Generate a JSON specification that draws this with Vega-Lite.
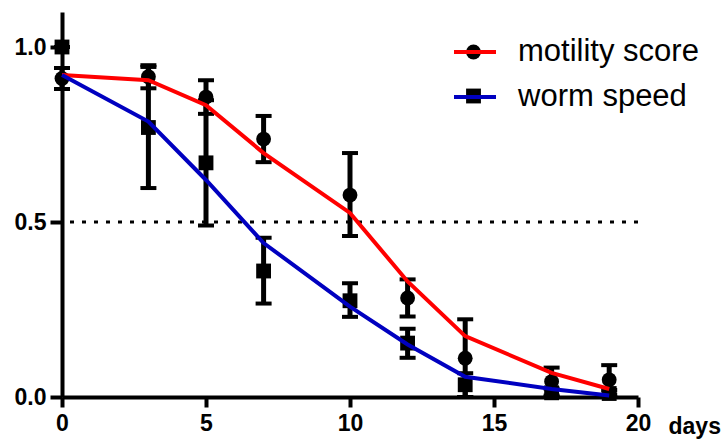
{
  "$schema": "https://vega.github.io/schema/vega-lite/v6.json",
  "autosize": "none",
  "width": 576,
  "height": 385,
  "padding": {"left": 62, "top": 12, "right": 88, "bottom": 42},
  "background": "white",
  "config": {"view": {"stroke": null}, "font": "Liberation Sans"},
  "datasets": {
    "obs": [
      {"group": "motility", "day": 0, "mean": 0.91, "lo": 0.88, "hi": 0.94},
      {"group": "motility", "day": 3, "mean": 0.915, "lo": 0.882, "hi": 0.948},
      {"group": "motility", "day": 5, "mean": 0.857, "lo": 0.809, "hi": 0.905},
      {"group": "motility", "day": 7, "mean": 0.737, "lo": 0.671, "hi": 0.803},
      {"group": "motility", "day": 10, "mean": 0.577, "lo": 0.46, "hi": 0.697},
      {"group": "motility", "day": 12, "mean": 0.283, "lo": 0.23, "hi": 0.336},
      {"group": "motility", "day": 14, "mean": 0.111, "lo": 0.0, "hi": 0.222},
      {"group": "motility", "day": 17, "mean": 0.044, "lo": 0.004, "hi": 0.084},
      {"group": "motility", "day": 19, "mean": 0.049, "lo": 0.007, "hi": 0.091},
      {"group": "speed", "day": 0, "mean": 1.0, "lo": 1.0, "hi": 1.0},
      {"group": "speed", "day": 3, "mean": 0.77, "lo": 0.597, "hi": 0.943},
      {"group": "speed", "day": 5, "mean": 0.669, "lo": 0.49, "hi": 0.848},
      {"group": "speed", "day": 7, "mean": 0.36, "lo": 0.267, "hi": 0.455},
      {"group": "speed", "day": 10, "mean": 0.275, "lo": 0.229, "hi": 0.325},
      {"group": "speed", "day": 12, "mean": 0.154, "lo": 0.112, "hi": 0.195},
      {"group": "speed", "day": 14, "mean": 0.035, "lo": 0.0, "hi": 0.068},
      {"group": "speed", "day": 17, "mean": 0.012, "lo": 0.0, "hi": 0.024},
      {"group": "speed", "day": 19, "mean": 0.01, "lo": 0.0, "hi": 0.02}
    ],
    "fit": [
      {"series": "motility score", "day": 0, "value": 0.92},
      {"series": "motility score", "day": 3, "value": 0.905},
      {"series": "motility score", "day": 5, "value": 0.834},
      {"series": "motility score", "day": 7, "value": 0.697},
      {"series": "motility score", "day": 10, "value": 0.526},
      {"series": "motility score", "day": 12, "value": 0.33},
      {"series": "motility score", "day": 14, "value": 0.174},
      {"series": "motility score", "day": 17, "value": 0.069},
      {"series": "motility score", "day": 19, "value": 0.023},
      {"series": "worm speed", "day": 0, "value": 0.92},
      {"series": "worm speed", "day": 3, "value": 0.787},
      {"series": "worm speed", "day": 5, "value": 0.62},
      {"series": "worm speed", "day": 7, "value": 0.44},
      {"series": "worm speed", "day": 10, "value": 0.258},
      {"series": "worm speed", "day": 12, "value": 0.15},
      {"series": "worm speed", "day": 14, "value": 0.058},
      {"series": "worm speed", "day": 17, "value": 0.023},
      {"series": "worm speed", "day": 19, "value": 0.004}
    ]
  },
  "layer": [
    {
      "data": {"name": "obs"},
      "mark": {"type": "rule", "color": "black", "strokeWidth": 5, "opacity": 1},
      "encoding": {
        "x": {
          "field": "day", "type": "quantitative",
          "scale": {"domain": [0, 20], "nice": false, "zero": false},
          "axis": {
            "values": [0, 5, 10, 15, 20], "grid": false,
            "domainColor": "black", "domainWidth": 4,
            "tickColor": "black", "tickWidth": 4, "tickSize": 10,
            "labelFont": "Liberation Sans", "labelFontSize": 23, "labelFontWeight": "bold", "labelColor": "black",
            "labelPadding": 5, "labelFlush": false, "labelOverlap": false,
            "title": "days", "titleFont": "Liberation Sans", "titleFontSize": 23, "titleFontWeight": "bold", "titleColor": "black",
            "titleX": 606, "titleY": 36, "titleAlign": "left", "titleBaseline": "alphabetic", "titleAnchor": "start"
          }
        },
        "y": {"field": "lo", "type": "quantitative",
          "scale": {"domain": [0, 1.1], "nice": false},
          "axis": {
            "values": [0, 0.5, 1.0], "format": ".1f", "grid": false, "title": null,
            "domainColor": "black", "domainWidth": 4,
            "tickColor": "black", "tickWidth": 4, "tickSize": 12,
            "labelFont": "Liberation Sans", "labelFontSize": 23, "labelFontWeight": "bold", "labelColor": "black",
            "labelPadding": 4, "labelFlush": false, "labelOverlap": false
          }},
        "y2": {"field": "hi"}
      }
    },
    {
      "data": {"name": "obs"},
      "mark": {"type": "tick", "orient": "horizontal", "color": "black", "opacity": 1, "size": 16, "thickness": 4},
      "encoding": {"x": {"field": "day", "type": "quantitative"}, "y": {"field": "lo", "type": "quantitative"}}
    },
    {
      "data": {"name": "obs"},
      "mark": {"type": "tick", "orient": "horizontal", "color": "black", "opacity": 1, "size": 16, "thickness": 4},
      "encoding": {"x": {"field": "day", "type": "quantitative"}, "y": {"field": "hi", "type": "quantitative"}}
    },
    {
      "data": {"name": "obs"},
      "mark": {"type": "point", "filled": true, "color": "black", "opacity": 1, "size": 220},
      "encoding": {
        "x": {"field": "day", "type": "quantitative"},
        "y": {"field": "mean", "type": "quantitative"},
        "shape": {"field": "group", "type": "nominal",
          "scale": {"domain": ["motility", "speed"], "range": ["circle", "square"]},
          "legend": {
            "orient": "none", "legendX": 403, "legendY": 25, "padding": 0, "title": null,
            "symbolFillColor": "black", "symbolStrokeColor": "black", "symbolSize": 220, "symbolOpacity": 1,
            "labelExpr": "''", "clipHeight": 30, "rowPadding": 14
          }}
      }
    },
    {
      "data": {"values": [{}]},
      "mark": {"type": "rule", "color": "black", "strokeWidth": 3, "strokeDash": [4, 8]},
      "encoding": {"y": {"datum": 0.5}}
    },
    {
      "data": {"name": "fit"},
      "mark": {"type": "line", "strokeWidth": 4},
      "encoding": {
        "x": {"field": "day", "type": "quantitative"},
        "y": {"field": "value", "type": "quantitative"},
        "color": {"field": "series", "type": "nominal",
          "scale": {"domain": ["motility score", "worm speed"], "range": ["#FF0000", "#0000C0"]},
          "legend": {
            "orient": "none", "legendX": 390, "legendY": 25, "padding": 0, "title": null,
            "symbolType": "stroke", "symbolStrokeWidth": 4, "symbolSize": 1764,
            "labelFont": "Liberation Sans", "labelFontSize": 31, "labelColor": "black", "labelOffset": 20, "labelLimit": 400,
            "clipHeight": 30, "rowPadding": 14
          }}
      }
    }
  ]
}
